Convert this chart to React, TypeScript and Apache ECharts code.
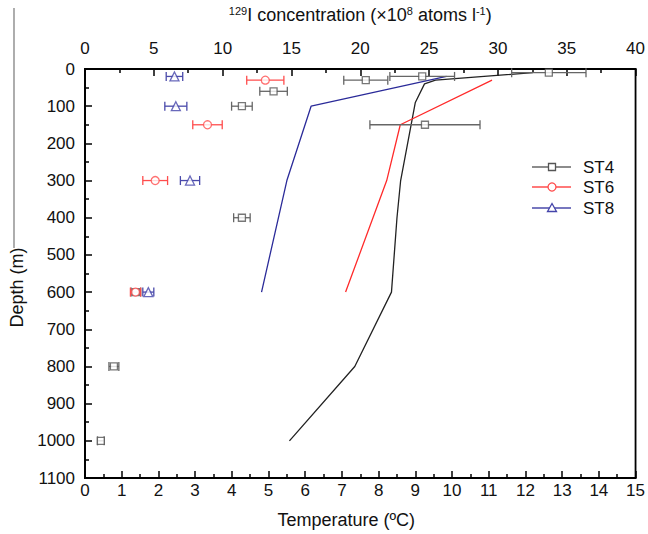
import React, { useEffect, useRef } from "react";
import * as echarts from "echarts";

// 129I concentration (top axis, ×10^8 atoms l^-1) with symmetric errors, by depth (m)
const st4Depth = [10, 20, 30, 60, 100, 150, 400, 600, 800, 1000];
const st4Iodine = [33.7, 24.5, 20.4, 13.7, 11.4, 24.7, 11.4, 3.7, 2.1, 1.15];
const st4Err = [2.7, 2.35, 1.6, 1.0, 0.75, 4.0, 0.6, 0.35, 0.36, 0.24];

const st6Depth = [30, 150, 300, 600];
const st6Iodine = [13.1, 8.9, 5.1, 3.67];
const st6Err = [1.35, 1.07, 0.9, 0.37];

const st8Depth = [20, 100, 300, 600];
const st8Iodine = [6.5, 6.6, 7.63, 4.6];
const st8Err = [0.6, 0.8, 0.7, 0.4];

// Temperature profiles (bottom axis, ºC) by depth (m)
const st4TempDepth = [10, 30, 40, 90, 300, 400, 600, 800, 1000];
const st4Temp = [12.2, 9.55, 9.25, 9.0, 8.6, 8.5, 8.35, 7.35, 5.57];
const st6TempDepth = [30, 150, 300, 600];
const st6Temp = [11.09, 8.59, 8.22, 7.1];
const st8TempDepth = [20, 100, 300, 600];
const st8Temp = [9.85, 6.16, 5.5, 4.81];

const stations = ["ST4", "ST6", "ST8"];

const FONT = "'Liberation Sans', Arial, sans-serif";

export default function App() {
  const ref = useRef<HTMLDivElement>(null);

  useEffect(() => {
    if (!ref.current) return;
    const chart = echarts.init(ref.current, null, { renderer: "svg" });

    const colors = {
      ST4: { line: "#222222", marker: "#555555", err: "#666666" },
      ST6: { line: "#ff2a2a", marker: "#ff4d4d", err: "#ff4d4d" },
      ST8: { line: "#2b2b99", marker: "#4444aa", err: "#4a4aaa" },
    };

    const errData = (d: number[], v: number[], e: number[]) =>
      d.map((dep, i) => [v[i] - e[i], v[i] + e[i], dep]);
    const ptData = (d: number[], v: number[]) => d.map((dep, i) => [v[i], dep]);

    const errSeries = (name: string, data: number[][], color: string) => ({
      type: "custom",
      name: name + "-err",
      xAxisIndex: 1,
      yAxisIndex: 0,
      encode: { x: [0, 1], y: 2 },
      z: 2,
      silent: true,
      data,
      renderItem: (_p: any, api: any) => {
        const lo = api.coord([api.value(0), api.value(2)]);
        const hi = api.coord([api.value(1), api.value(2)]);
        const h = 4.5;
        const st = { stroke: color, lineWidth: 1.3 };
        return {
          type: "group",
          children: [
            { type: "line", shape: { x1: lo[0], y1: lo[1], x2: hi[0], y2: hi[1] }, style: st },
            { type: "line", shape: { x1: lo[0], y1: lo[1] - h, x2: lo[0], y2: lo[1] + h }, style: st },
            { type: "line", shape: { x1: hi[0], y1: hi[1] - h, x2: hi[0], y2: hi[1] + h }, style: st },
          ],
        };
      },
    });

    const markerSeries = (name: string, data: number[][], symbol: string, size: number, color: string) => ({
      type: "scatter",
      name,
      xAxisIndex: 1,
      yAxisIndex: 0,
      symbol,
      symbolSize: size,
      z: 3,
      itemStyle: { color: "#ffffff", borderColor: color, borderWidth: 1.3 },
      data,
    });

    const lineSeries = (name: string, data: number[][], color: string) => ({
      type: "line",
      name: name + "-T",
      xAxisIndex: 0,
      yAxisIndex: 0,
      showSymbol: false,
      symbol: "none",
      z: 1,
      lineStyle: { color, width: 1.3 },
      data,
    });

    const axisCommon = {
      axisLine: { show: true, onZero: false, lineStyle: { color: "#000", width: 1.8 } },
      axisTick: { show: true, inside: true, length: 7, lineStyle: { color: "#000", width: 1.5 } },
      minorTick: { show: true, splitNumber: 2, length: 4, lineStyle: { color: "#000", width: 1.5 } },
      splitLine: { show: false },
      axisLabel: { color: "#111", fontSize: 17, fontFamily: FONT, formatter: (v: number) => String(v) },
      nameTextStyle: { color: "#111", fontSize: 18, fontFamily: FONT },
    };

    const legendY = [167, 187, 208];
    const legendSymbols = [
      { type: "rect", shape: { x: -3.5, y: -3.5, width: 7, height: 7 } },
      { type: "circle", shape: { cx: 0, cy: 0, r: 4 } },
      { type: "polygon", shape: { points: [[0, -4.5], [4.5, 3.5], [-4.5, 3.5]] } },
    ];
    const legendGraphics: any[] = [];
    stations.forEach((s, i) => {
      const c = (colors as any)[s];
      legendGraphics.push({
        type: "line",
        shape: { x1: 532, y1: legendY[i], x2: 571, y2: legendY[i] },
        style: { stroke: c.err, lineWidth: 1.3 },
      });
      legendGraphics.push({
        ...legendSymbols[i],
        x: 552,
        y: legendY[i],
        style: { fill: "#fff", stroke: c.marker, lineWidth: 1.3 },
      });
      legendGraphics.push({
        type: "text",
        x: 583,
        y: legendY[i],
        style: { text: s, fontSize: 17, fontFamily: FONT, fill: "#111", verticalAlign: "middle" },
      });
    });

    chart.setOption({
      animation: false,
      backgroundColor: "#ffffff",
      grid: {
        left: 80,
        right: 12,
        top: 68,
        bottom: 53,
        show: true,
        borderColor: "#000",
        borderWidth: 1.8,
        containLabel: false,
      },
      xAxis: [
        {
          ...axisCommon,
          type: "value",
          position: "bottom",
          min: 0,
          max: 15,
          interval: 1,
          name: "Temperature (ºC)",
          nameLocation: "middle",
          nameGap: 33,
          nameTextStyle: { ...axisCommon.nameTextStyle, padding: [0, 28, 0, 0] },
          axisLabel: { ...axisCommon.axisLabel, margin: 4 },
        },
        {
          ...axisCommon,
          type: "value",
          position: "top",
          min: 0,
          max: 40,
          interval: 5,
          name: "{sup|129}I concentration (×10{sup|8} atoms l{sup|-1})",
          nameLocation: "middle",
          nameGap: 45,
          nameTextStyle: {
            ...axisCommon.nameTextStyle,
            rich: {
              sup: { fontSize: 11, fontFamily: FONT, color: "#111", verticalAlign: "top", padding: [0, 0, 8, 0] },
            },
          },
          axisLabel: { ...axisCommon.axisLabel, margin: 12 },
        },
      ],
      yAxis: [
        {
          ...axisCommon,
          type: "value",
          inverse: true,
          min: 0,
          max: 1100,
          interval: 100,
          name: "Depth (m)",
          nameLocation: "middle",
          nameGap: 59,
          nameTextStyle: { ...axisCommon.nameTextStyle, padding: [0, 28, 0, 0] },
          axisLabel: { ...axisCommon.axisLabel, margin: 10 },
        },
      ],
      graphic: [
        {
          type: "line",
          shape: { x1: 14, y1: 8, x2: 14, y2: 248 },
          style: { stroke: "#777", lineWidth: 1.2 },
        },
        ...legendGraphics,
      ],
      series: [
        lineSeries("ST4", ptData(st4TempDepth, st4Temp), colors.ST4.line),
        lineSeries("ST6", ptData(st6TempDepth, st6Temp), colors.ST6.line),
        lineSeries("ST8", ptData(st8TempDepth, st8Temp), colors.ST8.line),
        errSeries("ST4", errData(st4Depth, st4Iodine, st4Err), colors.ST4.err),
        errSeries("ST6", errData(st6Depth, st6Iodine, st6Err), colors.ST6.err),
        errSeries("ST8", errData(st8Depth, st8Iodine, st8Err), colors.ST8.err),
        markerSeries("ST4", ptData(st4Depth, st4Iodine), "rect", 7, colors.ST4.marker),
        markerSeries("ST6", ptData(st6Depth, st6Iodine), "circle", 8, colors.ST6.marker),
        markerSeries("ST8", ptData(st8Depth, st8Iodine), "triangle", 9, colors.ST8.marker),
      ],
    });

    return () => chart.dispose();
  }, []);

  return (
    <div
      ref={ref}
      style={{ position: "fixed", left: 0, top: 0, width: 648, height: 534, background: "#fff" }}
    />
  );
}
